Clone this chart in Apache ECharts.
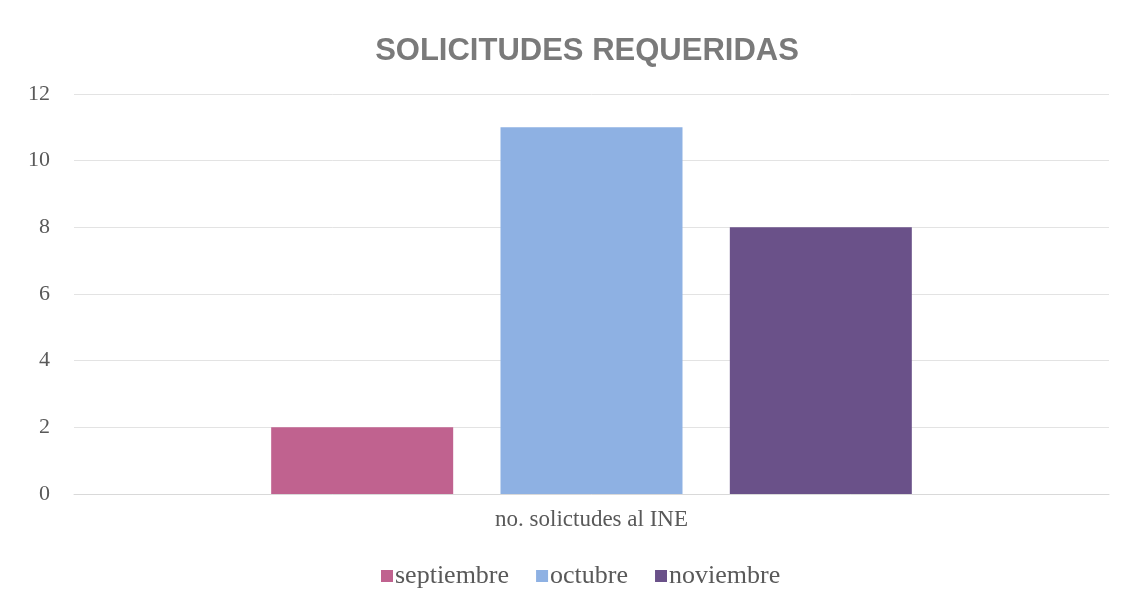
<!DOCTYPE html>
<html>
<head>
<meta charset="utf-8">
<script src="https://cdn.jsdelivr.net/npm/echarts@6/dist/echarts.min.js"></script>
<style>
  html, body { margin: 0; padding: 0; background: #fff; }
  #chart { width: 1127px; height: 610px; }
</style>
</head>
<body>
<div id="chart"></div>
<script>
// data
const categories = ["no. solictudes al INE"];
const seriesNames = ["septiembre", "octubre", "noviembre"];
const septiembre = [2];
const octubre = [11];
const noviembre = [8];
const colors = ["#c0628f", "#8eb1e3", "#6a5189"];

const chart = echarts.init(document.getElementById("chart"));
const values = [septiembre, octubre, noviembre];

chart.setOption({
  animation: false,
  backgroundColor: "#ffffff",
  title: {
    text: "SOLICITUDES REQUERIDAS",
    left: 582,
    textAlign: "center",
    top: 31,
    textStyle: {
      fontFamily: "Liberation Sans",
      fontWeight: "bold",
      fontSize: 31,
      color: "#7a7a7a"
    }
  },
  grid: {
    left: 74,
    right: 18,
    top: 94,
    bottom: 116
  },
  legend: {
    data: seriesNames,
    bottom: 16,
    left: 376,
    itemWidth: 12,
    itemHeight: 12,
    itemGap: 27,
    icon: "rect",
    textStyle: {
      fontFamily: "Liberation Serif",
      fontSize: 26,
      color: "#595959",
      padding: [0, 0, 0, -3]
    }
  },
  xAxis: {
    type: "category",
    data: categories,
    axisTick: { show: false },
    axisLine: { lineStyle: { color: "#d9d9d9" } },
    axisLabel: {
      fontFamily: "Liberation Serif",
      fontSize: 23,
      color: "#595959",
      margin: 14
    }
  },
  yAxis: {
    type: "value",
    min: 0,
    max: 12,
    interval: 2,
    axisLine: { show: false },
    axisTick: { show: false },
    splitLine: { lineStyle: { color: "#e3e3e3" } },
    axisLabel: {
      fontFamily: "Liberation Serif",
      fontSize: 22,
      color: "#595959",
      margin: 24
    }
  },
  series: seriesNames.map((name, i) => ({
    name: name,
    type: "bar",
    data: values[i],
    barWidth: 182,
    barGap: "26%",
    itemStyle: { color: colors[i] }
  }))
});
</script>
</body>
</html>
